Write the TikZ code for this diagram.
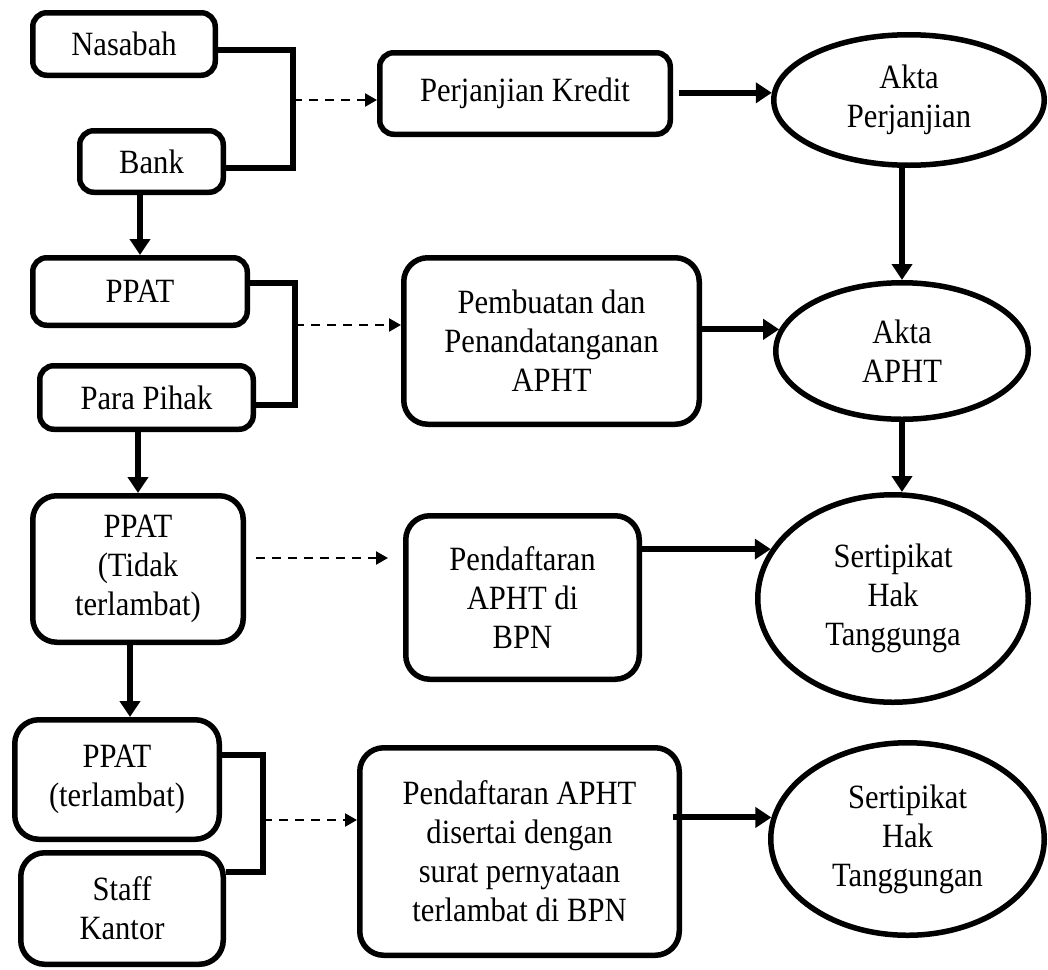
\documentclass[tikz,border=0pt]{standalone}
\usepackage{fontspec}
\setmainfont[FakeStretch=0.9]{Liberation Serif}
\usetikzlibrary{arrows.meta,shapes.geometric,calc}
\begin{document}
\begin{tikzpicture}[x=1pt,y=-1pt,
  txt/.style={font=\fontsize{34}{39}\selectfont, align=center, inner sep=0pt},
  box/.style={txt, draw, line width=5.5pt, rounded corners=14pt},
  bigbox/.style={box, rounded corners=24pt},
  oval/.style={txt, draw, ellipse, line width=5.5pt},
  flow/.style={line width=6pt, -{Triangle[length=16pt,width=20pt]}},
  link/.style={line width=2.3pt, dash pattern=on 9pt off 7pt, -{Triangle[length=12pt,width=13pt]}},
  joinline/.style={line width=5.5pt}]
\useasboundingbox (0,0) rectangle (1048,969);

% left column
\node[box, minimum width=182.5pt, minimum height=62.5pt] (nas) at (124,44) {Nasabah};
\node[box, minimum width=143.5pt, minimum height=61.5pt] (bank) at (151.5,161.5) {Bank};
\node[box, minimum width=214.5pt, minimum height=67.5pt] (ppat) at (140,291.5) {PPAT};
\node[box, minimum width=213.5pt, minimum height=63.5pt] (pp) at (146.5,397.5) {Para Pihak};
\node[bigbox, minimum width=210.5pt, minimum height=146.5pt] (ptidak) at (138,569) {PPAT\\(Tidak\\terlambat)};
\node[bigbox, minimum width=204.5pt, minimum height=119.5pt] (ptl) at (117,779.5) {PPAT\\(terlambat)};
\node[bigbox, minimum width=202.5pt, minimum height=111.5pt] (staff) at (122,908.5) {Staff\\Kantor};

% middle column
\node[box, minimum width=290.5pt, minimum height=81.5pt] (pk) at (525,93.5) {Perjanjian Kredit};
\node[bigbox, minimum width=295.5pt, minimum height=166.5pt] (pemb) at (551.5,341) {Pembuatan dan\\Penandatanganan\\APHT};
\node[bigbox, minimum width=233.5pt, minimum height=163.5pt] (pbpn) at (522.5,597.5) {Pendaftaran\\APHT di\\BPN};
\node[bigbox, minimum width=319.5pt, minimum height=207.5pt] (pdis) at (519.5,851.5) {Pendaftaran APHT\\disertai dengan\\surat pernyataan\\terlambat di BPN};

% right column
\node[oval, minimum width=270.5pt, minimum height=130.5pt] (ap) at (909,100) {Akta\\Perjanjian};
\node[oval, minimum width=252.5pt, minimum height=136.5pt] (aa) at (902,351) {Akta\\APHT};
\node[oval, minimum width=270.5pt, minimum height=207.5pt] (sht1) at (893,598.5) {Sertipikat\\Hak\\Tanggunga};
\node[oval, minimum width=273.5pt, minimum height=192.5pt] (sht2) at (907.5,839) {Sertipikat\\Hak\\Tanggungan};

% junction coordinates
\coordinate (j1) at (293,100);
\coordinate (j2) at (295,325);
\coordinate (j4) at (263,820);

% brackets
\draw[joinline] ([yshift=-6pt]nas.east) -| (j1) |- ([yshift=-6.5pt]bank.east);
\draw[joinline] ([yshift=8.5pt]ppat.east) -| (j2) |- ([yshift=-7.5pt]pp.east);
\draw[joinline] ([yshift=24.5pt]ptl.east) -| (j4) |- ([yshift=36.5pt]staff.east);

% dashed links
\draw[link] (j1) -- (j1 -| pk.west);
\draw[link] (j2) -- (j2 -| pemb.west);
\coordinate (d3s) at ([xshift=10pt,yshift=11pt]ptidak.east);
\coordinate (d3e) at (d3s -| pbpn.west);
\draw[link] (d3s) -- ([xshift=-15pt]d3e);
\draw[link] (j4) -- (j4 -| pdis.west);

% left vertical arrows
\draw[flow] (ppat.north |- bank.south) -- (ppat.north);
\draw[flow] (ptidak.north |- pp.south) -- (ptidak.north);
\coordinate (a3) at ([xshift=-8pt]ptidak.south);
\draw[flow] (a3) -- (a3 |- ptl.north);

% horizontal arrows to ovals
\draw[flow] ([xshift=6pt]pk.east |- ap.177) -- (ap.177);
\draw[flow] (pemb.east |- aa.170) -- (aa.170);
\draw[flow] (pbpn.east |- sht1.158) -- (sht1.158);
\draw[flow] ([xshift=-9pt]pdis.east |- sht2.171) -- (sht2.171);

% right vertical arrows
\draw[flow] (aa.north |- ap.south) -- (aa.north);
\draw[flow] (aa.south) -- (aa.south |- sht1.north);
\end{tikzpicture}
\end{document}
